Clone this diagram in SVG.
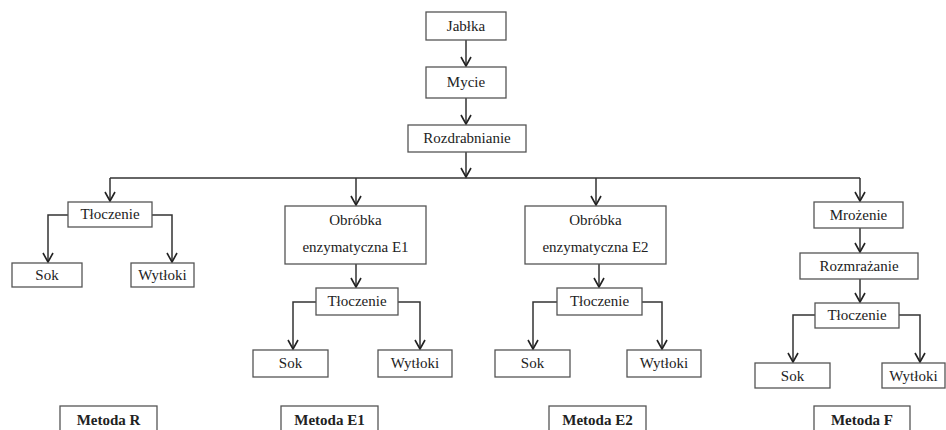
<svg xmlns="http://www.w3.org/2000/svg" width="946" height="430" viewBox="0 0 946 430">
<style>
.b{fill:#fff;stroke:#555;stroke-width:1.3}
.t{font-size:15px;fill:#222;text-anchor:middle}
.m{font-weight:bold}
.c{fill:none;stroke:#333;stroke-width:1.5}
.a{marker-end:url(#ah)}
</style>
<defs>
<marker id="ah" markerWidth="12" markerHeight="12" refX="10" refY="6" orient="auto" markerUnits="userSpaceOnUse">
<path d="M1,1 L10,6 L1,11" fill="none" stroke="#222" stroke-width="1.6"/>
</marker>
</defs>
<rect width="946" height="430" fill="#fff"/>
<g id="connectors">
<path class="c a" d="M466,40 V66"/>
<path class="c a" d="M466,98 V124"/>
<path class="c a" d="M466,152 V177"/>
<path class="c" d="M110,178 H860"/>
<path class="c a" d="M110,178 V201"/>
<path class="c a" d="M356,178 V205"/>
<path class="c a" d="M596,178 V205"/>
<path class="c a" d="M860,178 V201"/>
<path class="c a" d="M68,215 H48 V262"/>
<path class="c a" d="M152,215 H172 V262"/>
<path class="c a" d="M356,264 V287"/>
<path class="c a" d="M316,302 H293 V349"/>
<path class="c a" d="M398,302 H420 V349"/>
<path class="c a" d="M599,264 V287"/>
<path class="c a" d="M557,302 H533 V349"/>
<path class="c a" d="M642,302 H662 V349"/>
<path class="c a" d="M860,228 V252"/>
<path class="c a" d="M860,279 V302"/>
<path class="c a" d="M815,315 H793 V362"/>
<path class="c a" d="M899,315 H920 V362"/>
</g>
<g font-family="'Liberation Serif', 'DejaVu Serif', serif">
<g id="jablka"><rect class="b" x="426" y="12" width="80" height="28"/><text class="t" x="466" y="31">Jabłka</text></g>
<g id="mycie"><rect class="b" x="426" y="67" width="80" height="31"/><text class="t" x="466" y="87">Mycie</text></g>
<g id="rozdrabnianie"><rect class="b" x="408" y="125" width="118" height="27"/><text class="t" x="467" y="143">Rozdrabnianie</text></g>
<g id="r-tloczenie"><rect class="b" x="68" y="202" width="84" height="25"/><text class="t" x="110" y="219">Tłoczenie</text></g>
<g id="r-sok"><rect class="b" x="12" y="263" width="70" height="24"/><text class="t" x="47" y="280">Sok</text></g>
<g id="r-wytloki"><rect class="b" x="131" y="263" width="63" height="24"/><text class="t" x="162.5" y="280">Wytłoki</text></g>
<g id="e1-obrobka"><rect class="b" x="285" y="206" width="141" height="58"/><text class="t" x="355.5" y="225">Obróbka</text><text class="t" x="355.5" y="252">enzymatyczna E1</text></g>
<g id="e1-tloczenie"><rect class="b" x="316" y="288" width="82" height="27"/><text class="t" x="357" y="306">Tłoczenie</text></g>
<g id="e1-sok"><rect class="b" x="253" y="350" width="75" height="27"/><text class="t" x="290.5" y="368">Sok</text></g>
<g id="e1-wytloki"><rect class="b" x="378" y="350" width="74" height="27"/><text class="t" x="415" y="368">Wytłoki</text></g>
<g id="e2-obrobka"><rect class="b" x="525" y="206" width="141" height="58"/><text class="t" x="595.5" y="225">Obróbka</text><text class="t" x="595.5" y="252">enzymatyczna E2</text></g>
<g id="e2-tloczenie"><rect class="b" x="557" y="288" width="85" height="27"/><text class="t" x="599.5" y="306">Tłoczenie</text></g>
<g id="e2-sok"><rect class="b" x="495" y="350" width="75" height="27"/><text class="t" x="532.5" y="368">Sok</text></g>
<g id="e2-wytloki"><rect class="b" x="627" y="350" width="74" height="27"/><text class="t" x="664" y="368">Wytłoki</text></g>
<g id="f-mrozenie"><rect class="b" x="814" y="202" width="89" height="26"/><text class="t" x="858.5" y="220">Mrożenie</text></g>
<g id="f-rozmrazanie"><rect class="b" x="800" y="253" width="118" height="26"/><text class="t" x="859" y="271">Rozmrażanie</text></g>
<g id="f-tloczenie"><rect class="b" x="815" y="303" width="84" height="25"/><text class="t" x="857" y="320">Tłoczenie</text></g>
<g id="f-sok"><rect class="b" x="755" y="363" width="75" height="25"/><text class="t" x="792.5" y="381">Sok</text></g>
<g id="f-wytloki"><rect class="b" x="882" y="363" width="63" height="25"/><text class="t" x="913.5" y="381">Wytłoki</text></g>
<g id="metoda-r"><rect class="b" x="60" y="406" width="97" height="30"/><text class="t m" x="108.5" y="425">Metoda R</text></g>
<g id="metoda-e1"><rect class="b" x="281" y="406" width="97" height="30"/><text class="t m" x="329.5" y="425">Metoda E1</text></g>
<g id="metoda-e2"><rect class="b" x="549" y="406" width="97" height="30"/><text class="t m" x="597.5" y="425">Metoda E2</text></g>
<g id="metoda-f"><rect class="b" x="814" y="406" width="96" height="30"/><text class="t m" x="862" y="425">Metoda F</text></g>
</g>
</svg>
